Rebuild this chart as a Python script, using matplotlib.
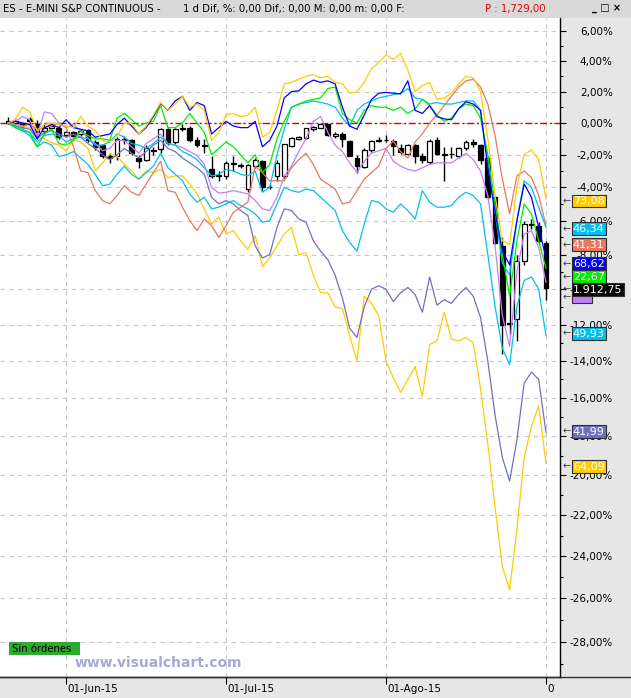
import numpy as np
import matplotlib
matplotlib.use("Agg")
import matplotlib.pyplot as plt
from matplotlib.patches import Rectangle
from matplotlib.lines import Line2D
from matplotlib.transforms import blended_transform_factory

# daily bars 19-May-15 .. 01-Sep-15, everything in % vs first close
month_labels = ["01-Jun-15", "01-Jul-15", "01-Ago-15", "01-Sep-15"]
month_bar = [8, 30, 52, 74]

es_open = [0.1, 0.0, -0.15, 0.25, -0.05, -0.5, -0.3, -0.3, -0.75, -0.6,
           -0.7, -0.45, -1.2, -1.4, -2.1, -2.1, -1.1, -1.1, -2.2, -2.3,
           -1.7, -1.65, -0.4, -1.2, -0.4, -0.3, -1.05, -1.4, -2.85, -3.3,
           -3.3, -2.5, -2.65, -4.1, -2.7, -2.4, -3.95, -3.3, -3.3, -1.45,
           -1.0, -0.95, -0.4, -0.3, -0.1, -0.85, -0.7, -1.15, -2.2, -2.75,
           -1.7, -1.15, -1.05, -1.15, -1.6, -1.95, -1.4, -2.05, -2.45, -1.07,
           -1.95, -1.96, -2.1, -1.6, -1.2, -1.4, -2.2, -4.6, -7.5, -11.9,
           -11.7, -8.4, -6.2, -6.3, -7.3]
es_close = [0.0, 0.1, -0.1, 0.1, -0.6, -0.3, -0.2, -0.9, -0.6, -0.8,
            -0.5, -1.1, -1.5, -2.1, -2.2, -1.0, -1.0, -1.9, -2.4, -1.6,
            -1.75, -0.4, -1.25, -0.4, -0.3, -1.1, -1.4, -1.45, -3.3, -3.25,
            -2.5, -2.55, -2.7, -2.65, -2.3, -4.0, -4.0, -2.5, -1.35, -0.97,
            -0.9, -0.35, -0.25, -0.1, -0.75, -0.7, -1.0, -2.05, -2.7, -1.7,
            -1.15, -1.05, -1.1, -1.45, -1.85, -1.4, -2.05, -2.35, -1.13, -1.96,
            -2.0, -1.98, -1.6, -1.2, -1.35, -2.3, -4.6, -7.3, -12.0, -11.95,
            -8.35, -6.2, -6.25, -7.2, -9.95]
es_high = [0.4, 0.3, 0.0, 0.4, 0.2, -0.1, 0.0, -0.2, -0.5, -0.5,
           -0.4, -0.4, -1.1, -1.3, -1.9, -0.9, -0.8, -1.0, -2.0, -1.4,
           -1.5, -0.3, -0.3, -0.3, -0.1, -0.2, -0.9, -1.0, -2.1, -3.0,
           -2.4, -2.1, -2.5, -2.6, -2.2, -2.3, -3.8, -2.3, -1.3, -0.9,
           -0.8, -0.3, -0.2, -0.05, -0.05, -0.6, -0.6, -1.1, -2.0, -1.6,
           -1.1, -0.9, -0.75, -1.0, -1.3, -1.3, -1.35, -1.9, -1.0, -0.9,
           -1.5, -1.5, -1.5, -1.1, -1.0, -1.3, -2.1, -4.5, -7.0, -8.3,
           -8.0, -6.0, -5.9, -6.1, -7.2]
es_low = [-0.1, -0.2, -0.3, 0.0, -1.0, -0.7, -0.4, -1.0, -0.9, -0.9,
          -0.8, -1.2, -1.7, -2.2, -2.5, -2.3, -1.3, -2.0, -2.8, -2.4,
          -2.0, -1.9, -1.4, -1.3, -0.5, -1.2, -1.5, -1.9, -3.4, -3.6,
          -3.5, -3.0, -2.8, -4.3, -2.8, -4.2, -4.1, -3.6, -3.4, -1.5,
          -1.1, -1.0, -0.5, -0.35, -0.8, -0.95, -1.5, -2.1, -3.1, -2.8,
          -1.8, -1.2, -1.2, -2.0, -1.95, -2.0, -2.5, -2.5, -2.6, -2.0,
          -3.6, -2.2, -2.2, -1.7, -1.5, -2.6, -4.7, -7.4, -13.6, -12.5,
          -12.9, -8.6, -6.5, -7.4, -10.6]

gold_hi = [0, 0.2, 1.0, 0.7, -0.5, -0.1, 0.0, -0.1, -0.2, -0.3,
           0.4, -0.2, -0.5, -1.1, -1.2, -0.9, 0.0, 0.0, -0.7, -0.2,
           0.5, 1.3, 0.8, 1.2, 1.7, 1.0, 1.2, 0.8, -1.1, -0.6,
           0.5, 0.6, 0.4, 0.5, 1.0, -0.9, -0.6, 0.8, 2.5, 2.6,
           2.8, 3.0, 3.1, 2.9, 3.0, 2.6, 2.5, 1.9, 2.0, 2.6,
           3.5, 3.9, 4.4, 4.1, 4.5, 3.4, 2.0, 2.4, 2.6, 1.5,
           1.6, 1.9, 2.5, 3.0, 2.9, 2.0, -1.0, -4.5, -7.2, -7.4,
           -4.0, -2.0, -1.7, -2.3, -4.7]
blue = [0, 0.1, 0.0, -0.1, -1.0, -0.3, -0.1, -0.3, 0.2, -0.3,
        -0.4, -0.5, -0.9, -0.8, -0.7, -0.1, 0.3, -0.2, -0.7, -0.3,
        0.4, 1.25, 0.8, 1.4, 1.7, 0.8, 1.3, 1.1, -0.7, -0.3,
        0.1, -0.2, -0.3, -0.3, 0.1, -1.5, -1.1, -0.2, 1.6, 2.0,
        2.05, 2.5, 2.75, 2.6, 2.7, 2.5, 1.0, -0.2, -0.4, 0.5,
        1.5, 1.9, 1.95, 1.9, 1.85, 2.7, 0.8, 0.6, 1.1, 0.4,
        0.25, 0.2, 0.9, 1.35, 1.2, 0.8, -2.8, -5.5, -7.8, -8.6,
        -6.0, -3.8, -4.6, -6.4, -8.2]
green = [0, -0.3, -0.5, -0.6, -1.5, -0.7, -0.4, -1.3, -1.4, -1.1,
         -0.5, -0.8, -1.0, -1.0, -1.1, 0.3, 0.6, 0.2, -0.2, 0.0,
         0.1, 1.1, -0.3, -0.3, 0.0, 0.6, 0.0, -0.6, -2.0, -1.6,
         -1.2, -1.5, -2.0, -2.5, -2.0, -3.1, -2.6, -1.0, 0.1, 1.0,
         1.2, 1.4, 1.5, 1.6, 2.2, 2.3, 0.6, 0.2, 0.0, 0.8,
         1.1, 1.0, 1.0, 0.8, 1.0, 0.6, 0.9, 1.5, 1.1, 0.5,
         0.1, 0.3, 0.9, 1.2, 1.1, 0.3, -2.0, -5.0, -8.0, -10.4,
         -7.2, -5.0, -5.6, -7.2, -8.8]
cyan_hi = [0, -0.2, -0.4, -0.6, -1.2, -0.8, -0.7, -0.8, -1.2, -1.0,
           -0.9, -1.0, -1.4, -1.4, -1.2, -0.7, -0.9, -1.3, -1.4, -1.6,
           -1.3, -0.9, -1.3, -1.4, -1.8, -2.0, -2.3, -2.8, -3.3, -3.2,
           -2.9, -3.0, -3.2, -3.3, -3.0, -4.3, -4.0, -2.0, -0.4, 1.0,
           1.2, 1.3, 1.4, 1.3, 1.2, 1.0, 0.3, -0.2, 0.8, 1.2,
           1.4, 1.6, 1.7, 1.8, 1.9, 2.2, 1.6, 1.5, 1.2, 1.3,
           1.2, 1.2, 1.3, 1.4, 1.4, 0.8, -2.5, -5.5, -8.5, -9.2,
           -6.0, -3.6, -4.0, -5.2, -6.4]
salmon = [0, -0.1, -0.2, -0.1, -0.4, -0.3, -0.2, 0.0, -0.3, -1.5,
          -3.0, -3.1, -4.2, -4.8, -5.0, -4.5, -3.9, -4.3, -4.5, -3.8,
          -3.1, -2.4, -4.2, -4.3, -5.2, -6.0, -6.6, -5.9, -6.3, -7.0,
          -6.3, -5.5, -5.2, -4.9, -2.7, -3.1, -3.6, -3.6, -3.6, -2.8,
          -2.3, -1.9, -2.6, -3.5, -3.8, -4.1, -5.0, -4.9, -4.2, -3.5,
          -3.1, -2.7, -1.6, -1.15, -1.8, -2.2, -1.2, -0.7, 0.0, 0.5,
          1.1, 1.7, 2.3, 2.7, 2.8, 2.3, 1.2, -0.8, -3.5, -5.6,
          -3.3, -3.0, -3.4, -4.5, -6.3]
lilac = [0, 0.1, 0.4, 0.2, -0.8, 0.7, 0.6, 0.0, -0.3, -0.1,
         -0.5, -0.95, -1.3, -1.75, -1.6, -1.1, -1.1, -1.5, -1.9, -1.3,
         -1.0, -0.7, -1.3, -1.4, -1.55, -1.8, -2.05, -2.6, -4.0, -4.35,
         -4.3, -4.2, -4.3, -4.4, -4.8, -5.3, -5.4, -4.6, -3.3, -2.7,
         -1.8, -1.0, 0.1, 0.4, -0.6, -1.4, -1.8, -2.5, -3.1, -2.4,
         -1.9, -1.75, -1.6, -2.4, -2.7, -2.9, -3.0, -2.8, -2.6, -2.5,
         -2.5, -2.5, -2.2, -1.9, -2.3, -3.0, -4.5, -7.5, -11.5, -13.2,
         -9.0, -6.8, -6.6, -7.6, -9.6]
cyan_lo = [0, -0.3, -0.5, -0.8, -1.5, -1.2, -1.4, -2.1, -2.0, -1.8,
           -2.2, -2.6, -3.2, -3.9, -3.8, -3.2, -2.7, -3.2, -3.5, -3.1,
           -2.7, -1.9, -2.8, -3.2, -3.6, -4.4, -4.9, -4.6, -5.3, -5.2,
           -5.0, -4.8, -5.1, -5.3, -5.6, -6.1, -6.0, -5.0, -4.0, -4.2,
           -4.3, -4.1, -4.2, -4.6, -5.0, -5.4, -6.6, -7.3, -7.8, -6.2,
           -4.8, -4.9, -5.3, -5.5, -5.0, -5.4, -5.9, -4.2, -4.9, -5.2,
           -5.2, -5.1, -4.6, -4.3, -4.5, -5.0, -8.0, -11.0, -13.3, -14.2,
           -11.0, -9.5, -9.3, -10.0, -12.6]
slate = [0, -0.2, -0.3, -0.4, -1.0, -0.6, -0.5, -0.7, -0.9, -0.7,
         -0.9, -1.3, -1.6, -2.0, -2.3, -2.0, -1.6, -1.9, -2.2, -1.8,
         -1.4, -1.1, -1.6, -1.8, -2.2, -2.5, -2.8, -3.2, -4.6, -5.0,
         -4.8, -5.0, -5.4, -5.7, -7.5, -8.2, -8.0, -6.4, -5.3, -5.4,
         -5.9, -6.1, -7.2, -7.8, -8.3, -9.2, -10.5, -12.2, -12.7, -11.0,
         -10.0, -9.8, -10.0, -10.7, -10.2, -9.9, -10.3, -11.3, -9.3, -10.9,
         -10.6, -10.8, -10.3, -9.9, -10.4, -11.6, -14.0, -16.9, -19.1, -20.3,
         -18.2, -15.2, -14.6, -15.0, -17.8]
gold_lo = [0, -0.1, -0.2, -0.3, -0.8, -1.0, -1.25, -1.4, -1.75, -1.1,
           -1.2, -1.6, -3.0, -2.5, -1.95, -2.1, -2.6, -3.0, -3.5, -3.0,
           -3.1, -2.9, -3.4, -3.3, -3.3, -3.8, -4.4, -5.3, -6.2, -5.8,
           -6.8, -6.6, -7.2, -7.7, -6.9, -8.7, -8.2, -7.5, -6.8, -6.4,
           -8.0, -7.9, -9.2, -10.2, -10.2, -11.0, -11.1, -12.6, -14.0, -10.4,
           -10.8, -11.5, -14.0, -14.9, -15.7, -15.0, -14.3, -15.9, -13.1, -12.9,
           -11.3, -12.8, -12.9, -12.7, -13.0, -15.5, -18.4, -21.6, -24.5, -25.6,
           -22.7, -19.1, -17.5, -16.4, -19.4]

# last-value tags on the right scale
tag_text = ["73,08", "46,34", "41,31", "68,62", "22,67", "     ", "1.912,75", "49,93", "41,99", "64,09"]
tag_at = [-4.82, -6.49, -7.43, -8.54, -9.29, -10.45, -10.03, -12.5, -17.77, -19.56]

GOLD = "#FFCC00"
CYAN = "#00C0F0"
SALMON = "#E8785C"
LILAC = "#C080F8"
SLATE = "#7070C0"
GREEN = "#00EE00"
tag_color = [GOLD, CYAN, SALMON, "#0000FF", GREEN, LILAC, "black", CYAN, SLATE, GOLD]

W, H = 631, 698
fig = plt.figure(figsize=(W / 100, H / 100), dpi=100, facecolor="#E6E6E6")
ax = fig.add_axes([0, 21 / H, 560 / W, 659 / H])
ax.set_facecolor("white")
ax.set_yscale("function", functions=(lambda v: np.log1p(np.asarray(v, float) / 100),
                                     lambda t: np.expm1(t) * 100))

idx = np.arange(len(es_close))
o = np.array(es_open)
c = np.array(es_close)

# candles
ax.vlines(idx, es_low, es_high, color="black", lw=1, zorder=2)
up = c >= o
ax.bar(idx[up], (c - o)[up], bottom=o[up], width=0.66, color="white",
       edgecolor="black", lw=0.9, zorder=2.2)
ax.bar(idx[~up], (o - c)[~up], bottom=c[~up], width=0.66, color="black",
       edgecolor="black", lw=0.9, zorder=2.2)

ax.axhline(0, color="#E00000", lw=1, linestyle=(0, (5, 2, 1.5, 2)), zorder=1.5)

series = [(gold_lo, GOLD), (slate, SLATE), (cyan_lo, CYAN), (lilac, LILAC),
          (salmon, SALMON), (cyan_hi, CYAN), (green, GREEN), (blue, "#0000FF"),
          (gold_hi, GOLD)]
for vals, col in series:
    ax.plot(idx, vals, color=col, lw=0.9, zorder=3)

ax.set_xlim(-1.1, 75.93)
ax.set_ylim(-29.6, 6.87)

yt = list(range(-28, 7, 2))
ax.set_yticks(yt)
ax.set_yticklabels([f"{v},00%" for v in yt])
ax.set_yticks(list(range(-29, 7, 2)), minor=True)
ax.yaxis.tick_right()
ax.tick_params(axis="y", which="major", direction="out", length=4, width=0.8,
               pad=34, labelsize=7.5, colors="black")
ax.tick_params(axis="y", which="minor", direction="out", length=2.5, width=0.8)
for t in ax.get_yticklabels():
    t.set_horizontalalignment("right")

ax.set_xticks(month_bar)
ax.set_xticklabels([])
ax.tick_params(axis="x", direction="out", length=5, width=0.8)

ax.set_axisbelow(True)
ax.grid(axis="y", which="major", color="#C8C8C8", linestyle=(0, (4, 4)), lw=0.8)
ax.grid(axis="x", color="#C8C4D0", linestyle=(0, (4, 4)), lw=0.8)

for s in ["left", "top"]:
    ax.spines[s].set_visible(False)
ax.spines["right"].set_linewidth(1)
ax.spines["bottom"].set_linewidth(1)

# month labels, clipped where the price scale starts
clip = Rectangle((0, 0), 555 / W, 1, transform=fig.transFigure, visible=False)
fig.add_artist(clip)
xtr = blended_transform_factory(ax.transData, ax.transAxes)
for m, lab in zip(month_bar, month_labels):
    t = ax.text(m + 0.2, -0.0185, lab, transform=xtr, ha="left", va="center",
                fontsize=7.5, clip_on=True)
    t.set_clip_path(clip)

# value tags
ytr = blended_transform_factory(ax.transAxes, ax.transData)
for k, (txt, yv, col) in enumerate(zip(tag_text, tag_at, tag_color)):
    ax.text(1.004, yv, "\u2190", transform=ytr, ha="left", va="center",
            fontsize=7, color="#404040", zorder=6 + k)
    ax.text(1.023, yv, txt, transform=ytr, ha="left", va="center", fontsize=8,
            color="white", zorder=6 + k,
            bbox=dict(boxstyle="square,pad=0.12", fc=col, ec="#303030", lw=0.8))

# title bar
fig.add_artist(Rectangle((0, 1 - 18 / H), 1, 18 / H, transform=fig.transFigure,
                         fc="#D9D9D9", ec="none", zorder=-1))
fig.text(3 / W, 1 - 9 / H, "ES - E-MINI S&P CONTINUOUS -", fontsize=7.3, va="center")
fig.text(183 / W, 1 - 9 / H, "1 d Dif, %: 0,00 Dif,: 0,00 M: 0,00 m: 0,00 F:",
         fontsize=7.3, va="center")
fig.text(485 / W, 1 - 9 / H, "P : 1,729,00", fontsize=7.3, va="center", color="#E00000")
fig.text(592 / W, 1 - 8 / H, "_ \u25a1 \u00d7", fontsize=7, va="center", weight="bold")
fig.add_artist(Line2D([0, 1], [21 / H, 21 / H], transform=fig.transFigure,
                      color="#303030", lw=1))

# order panel + watermark
fig.add_artist(Rectangle((9 / W, 1 - 655 / H), 71 / W, 13 / H, transform=fig.transFigure,
                         fc="#2EAA2E", ec="none", zorder=5))
fig.text(12 / W, 1 - 648.5 / H, "Sin órdenes", fontsize=7.3, va="center", zorder=6)
fig.text(75 / W, 1 - 663 / H, "www.visualchart.com", fontsize=10, weight="bold",
         color="#A8A8D8", va="center", zorder=6)

fig.savefig("out.png", dpi=100, facecolor=fig.get_facecolor())
